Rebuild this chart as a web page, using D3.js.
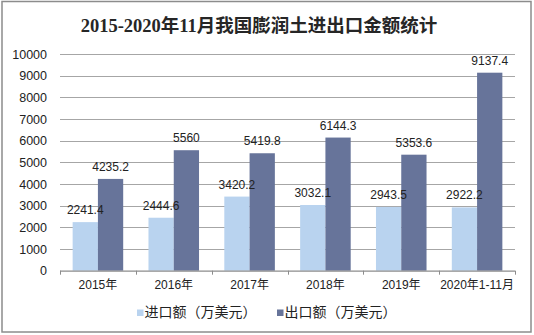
<!DOCTYPE html>
<html>
<head>
<meta charset="utf-8">
<script src="https://cdn.jsdelivr.net/npm/d3@7/dist/d3.min.js"></script>
<style>
  html, body { margin: 0; padding: 0; background: #fff; }
  svg { display: block; }
</style>
</head>
<body>
<svg id="chart" width="534" height="335"></svg>
<script>
// Bentonite import / export value, 2015 – Jan-Nov 2020 (10k USD)
const categories = ["2015年", "2016年", "2017年", "2018年", "2019年", "2020年1-11月"];
const importValues = [2241.4, 2444.6, 3420.2, 3032.1, 2943.5, 2922.2];
const exportValues = [4235.2, 5560, 5419.8, 6144.3, 5353.6, 9137.4];
const seriesNames = ["进口额（万美元）", "出口额（万美元）"];
const seriesColors = ["#B9D3EF", "#67749A"];
const yTicks = [0, 1000, 2000, 3000, 4000, 5000, 6000, 7000, 8000, 9000, 10000];
const titleText = "2015-2020年11月我国膨润土进出口金额统计";

const svg = d3.select("#chart");
const plot = { left: 60, right: 515, top: 54, bottom: 270.7 };

const latin = "'Liberation Sans', Arial, 'Noto Sans CJK SC', sans-serif";

// outer frame
svg.append("rect")
  .attr("x", 2).attr("y", 1.5)
  .attr("width", 529).attr("height", 330.5)
  .attr("fill", "#fff")
  .attr("stroke", "#8c8c8c")
  .attr("stroke-width", 1.5);

// title
svg.append("text")
  .attr("x", 259).attr("y", 32)
  .attr("text-anchor", "middle")
  .attr("font-family", "'Liberation Serif', 'Noto Sans CJK SC', serif")
  .attr("font-weight", "bold")
  .attr("font-size", 18.5)
  .attr("fill", "#262626")
  .text(titleText);

const x0 = d3.scaleBand().domain(categories).range([plot.left, plot.right]).padding(0);
const bw = x0.bandwidth();
const x1 = d3.scaleBand().domain([0, 1]).range([bw / 6, bw * 5 / 6]).padding(0);
const y = d3.scaleLinear().domain([0, 10000]).range([plot.bottom, plot.top]);

// horizontal gridlines
svg.append("g")
  .selectAll("line")
  .data(yTicks.filter(d => d > 0))
  .join("line")
  .attr("x1", plot.left).attr("x2", plot.right)
  .attr("y1", d => Math.round(y(d)) + 0.5).attr("y2", d => Math.round(y(d)) + 0.5)
  .attr("stroke", "#a6a6a6").attr("stroke-width", 1);

// y axis labels (no axis line)
const yAxis = d3.axisLeft(y).tickValues(yTicks).tickFormat(d3.format("d"))
  .tickSize(0).tickPadding(13);
const gy = svg.append("g").attr("transform", `translate(${plot.left},0)`).call(yAxis);
gy.select(".domain").remove();
gy.selectAll("text")
  .attr("font-family", latin).attr("font-size", 12.5).attr("fill", "#222");

// bars
const rows = categories.map((c, i) => ({ cat: c, vals: [importValues[i], exportValues[i]] }));
const groups = svg.append("g").selectAll("g")
  .data(rows).join("g")
  .attr("transform", d => `translate(${x0(d.cat)},0)`);

groups.selectAll("rect")
  .data(d => d.vals.map((v, k) => ({ k, v })))
  .join("rect")
  .attr("x", d => x1(d.k))
  .attr("width", x1.bandwidth())
  .attr("y", d => y(d.v))
  .attr("height", d => y(0) - y(d.v))
  .attr("fill", d => seriesColors[d.k]);

groups.selectAll("text")
  .data(d => d.vals.map((v, k) => ({ k, v })))
  .join("text")
  .attr("x", d => x1(d.k) + x1.bandwidth() / 2)
  .attr("y", d => y(d.v) - 8)
  .attr("text-anchor", "middle")
  .attr("font-family", latin).attr("font-size", 12)
  .attr("fill", "#222")
  .text(d => d.v);

// x axis
const xAxis = d3.axisBottom(x0).tickSize(0).tickPadding(10);
const gx = svg.append("g").attr("transform", `translate(0,${plot.bottom})`).call(xAxis);
gx.select(".domain").attr("stroke", "#8c8c8c").attr("stroke-width", 1.2)
  .attr("d", `M${plot.left},0.5H${plot.right}`);
gx.selectAll("text")
  .attr("font-family", latin).attr("font-size", 12).attr("fill", "#222");
// category boundary ticks
svg.append("g").selectAll("line")
  .data(categories.map(c => x0(c)).concat([plot.right]))
  .join("line")
  .attr("x1", d => Math.round(d) + 0.5).attr("x2", d => Math.round(d) + 0.5)
  .attr("y1", plot.bottom).attr("y2", plot.bottom + 4)
  .attr("stroke", "#8c8c8c").attr("stroke-width", 1);

// legend
const legend = svg.append("g").selectAll("g")
  .data(seriesNames).join("g")
  .attr("transform", (d, i) => `translate(${137 + i * 140},0)`);
legend.append("rect")
  .attr("x", 0).attr("y", 309.5)
  .attr("width", 6.5).attr("height", 6.5)
  .attr("fill", (d, i) => seriesColors[i]);
legend.append("text")
  .attr("x", 7.5).attr("y", 316.5)
  .attr("font-family", "'Noto Sans CJK SC', sans-serif")
  .attr("font-size", 14)
  .attr("fill", "#222")
  .text(d => d);
</script>
</body>
</html>
